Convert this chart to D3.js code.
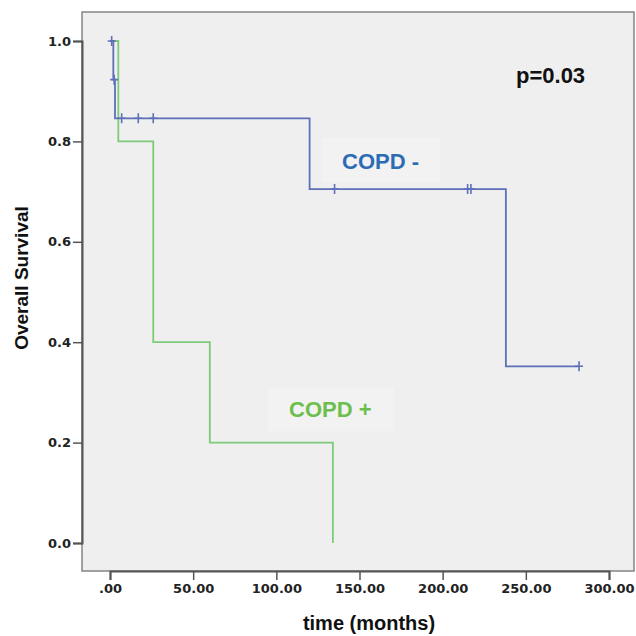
<!DOCTYPE html>
<html>
<head>
<meta charset="utf-8">
<script src="https://cdn.jsdelivr.net/npm/d3@7"></script>
<style>
  body { margin: 0; background: #fff; }
  svg text { font-family: "Liberation Sans", Arial, sans-serif; font-weight: bold; }
  .tick text { font-family: "DejaVu Sans", sans-serif; }
</style>
</head>
<body>
<div class="grafico"></div>
<script>
// survival steps (time in months, survival proportion)
const copdNegTimes = [0, 2, 3, 120, 238, 282];
const copdNegSurv  = [1.0, 0.923, 0.846, 0.705, 0.352, 0.352];
const copdNegCensT = [1, 2.5, 7, 17, 26, 135, 215, 217, 282];
const copdNegCensS = [1.0, 0.923, 0.846, 0.846, 0.846, 0.705, 0.705, 0.705, 0.352];

const copdPosTimes = [0, 5, 26, 26, 60, 134, 134];
const copdPosSurv  = [1.0, 0.8, 0.6, 0.4, 0.2, 0.0, 0.0];

const xTicks = [0, 50, 100, 150, 200, 250, 300];
const yTicks = [0, 0.2, 0.4, 0.6, 0.8, 1.0];
const pLabel = "p=0.03";

var width = 636, height = 636;
var frame = {left: 82, top: 12, right: 634, bottom: 571};

let svg = d3.select(".grafico")
  .append("svg")
  .attr("width", width)
  .attr("height", height);

const x = d3.scaleLinear().domain([0, 300]).range([110, 609]);
const y = d3.scaleLinear().domain([0, 1]).range([543, 41]);

// plot area
svg.append("rect")
  .attr("x", frame.left)
  .attr("y", frame.top)
  .attr("width", frame.right - frame.left)
  .attr("height", frame.bottom - frame.top)
  .attr("fill", "#efefef")
  .attr("stroke", "#858585")
  .attr("stroke-width", 1.5);

// axes
svg.append("g")
  .attr("class", "x axis")
  .attr("transform", "translate(0," + frame.bottom + ")")
  .call(d3.axisBottom(x).tickValues(xTicks).tickSize(9).tickPadding(4)
    .tickFormat(d => d === 0 ? ".00" : d3.format(".2f")(d)));

svg.append("g")
  .attr("class", "y axis")
  .attr("transform", "translate(" + frame.left + ",0)")
  .call(d3.axisLeft(y).tickValues(yTicks).tickSize(9).tickPadding(2)
    .tickFormat(d3.format(".1f")));

svg.selectAll(".axis .domain")
  .attr("stroke", "#555")
  .attr("stroke-width", 2);
svg.selectAll(".axis .tick line")
  .attr("stroke", "#555")
  .attr("stroke-width", 1.5);
svg.selectAll(".axis .tick text")
  .attr("font-size", 13)
  .attr("fill", "#222");

// axis titles
svg.append("text")
  .attr("x", 369)
  .attr("y", 630)
  .attr("text-anchor", "middle")
  .attr("font-size", 20)
  .attr("fill", "#111")
  .text("time (months)");

svg.append("text")
  .attr("transform", "translate(28,278) rotate(-90)")
  .attr("text-anchor", "middle")
  .attr("font-size", 19)
  .attr("fill", "#111")
  .text("Overall Survival");

// curves
const stepLine = d3.line()
  .x(d => x(d[0]))
  .y(d => y(d[1]))
  .curve(d3.curveStepAfter);

svg.append("path")
  .datum(d3.zip(copdPosTimes, copdPosSurv))
  .attr("fill", "none")
  .attr("stroke", "#7ccb78")
  .attr("stroke-width", 1.8)
  .attr("d", stepLine);

svg.append("path")
  .datum(d3.zip(copdNegTimes, copdNegSurv))
  .attr("fill", "none")
  .attr("stroke", "#5d70b9")
  .attr("stroke-width", 1.8)
  .attr("d", stepLine);

// censor marks
svg.selectAll(".cens")
  .data(d3.zip(copdNegCensT, copdNegCensS))
  .enter().append("path")
  .attr("class", "cens")
  .attr("fill", "none")
  .attr("stroke", "#5d70b9")
  .attr("stroke-width", 1.6)
  .attr("d", d => "M" + (x(d[0]) - 4) + "," + y(d[1]) + "h8M" + x(d[0]) + "," + (y(d[1]) - 5) + "v10");

// labels
svg.append("rect")
  .attr("x", 322).attr("y", 138).attr("width", 118).attr("height", 44)
  .attr("fill", "#f2f2f2");
svg.append("text")
  .attr("x", 342)
  .attr("y", 169)
  .attr("font-size", 22)
  .attr("fill", "#2b6cb5")
  .text("COPD -");

svg.append("rect")
  .attr("x", 268).attr("y", 387).attr("width", 126).attr("height", 44)
  .attr("fill", "#f2f2f2");
svg.append("text")
  .attr("x", 289)
  .attr("y", 417)
  .attr("font-size", 22)
  .attr("fill", "#6cbf4c")
  .text("COPD +");

svg.append("text")
  .attr("x", 516)
  .attr("y", 83)
  .attr("font-size", 22)
  .attr("fill", "#111")
  .text(pLabel);
</script>
</body>
</html>
